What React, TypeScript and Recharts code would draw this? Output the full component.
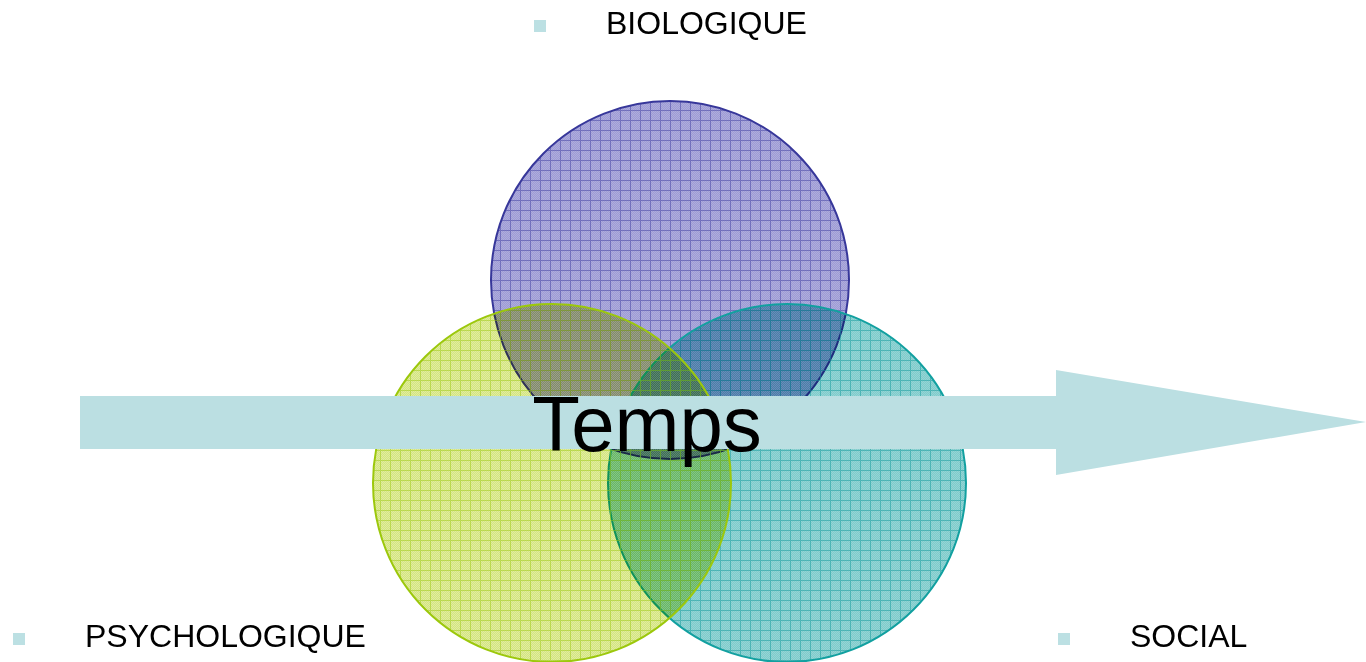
import { ComposedChart, Area, Scatter, XAxis, YAxis, ZAxis } from 'recharts'

// the three spheres, in picture coordinates (drawn in this order)
const circleNames = ['BIOLOGIQUE', 'SOCIAL', 'PSYCHOLOGIQUE']
const circleX = [670, 787, 552]
const circleY = [280, 483, 483]
const circleR = [179, 179, 179]

// bullet labels
const labelNames = ['BIOLOGIQUE', 'PSYCHOLOGIQUE', 'SOCIAL']
const labelX = [540, 19, 1064]
const labelY = [26, 639, 639]

// time arrow outline: x positions with [top, bottom] of the band
const arrowX = [80, 1056, 1056, 1366]
const arrowTop = [396, 396, 370, 422]
const arrowBottom = [449, 449, 475, 422]

const arrowTitle = 'Temps'
const arrowTitleX = 647
const arrowTitleY = 451

const W = 1366
const H = 662
const FONT = '"Liberation Sans", Arial, sans-serif'

const palette: Record<string, { base: string; light: string; line: string; stroke: string }> = {
  BIOLOGIQUE: { base: '#9e9cd4', light: '#aeacdd', line: '#3e3ba0', stroke: '#37379a' },
  PSYCHOLOGIQUE: { base: '#d4e580', light: '#e0eca0', line: '#9cc810', stroke: '#9cc80c' },
  SOCIAL: { base: '#80cbcb', light: '#94d5d5', line: '#10989a', stroke: '#12a0a0' }
}

const circles = circleNames.map((name, i) => ({
  name,
  x: circleX[i],
  y: circleY[i],
  z: Math.PI * circleR[i] * circleR[i]
}))

const labels = labelNames.map((name, i) => ({ name, x: labelX[i], y: labelY[i] }))

const arrow = arrowX.map((x, i) => ({ x, band: [arrowTop[i], arrowBottom[i]] }))

const title = [{ x: arrowTitleX, y: arrowTitleY, name: arrowTitle }]

const maxZ = Math.max(...circles.map((c) => c.z))

function Sphere(props: any) {
  const { cx, cy, width, payload } = props
  const r = width / 2
  const c = palette[payload.name]
  const id = payload.name.toLowerCase()
  return (
    <g>
      <defs>
        <pattern id={`dither-${id}`} width={2} height={2} patternUnits="userSpaceOnUse">
          <rect width={2} height={2} fill={c.base} />
          <rect width={1} height={1} fill={c.light} />
          <rect x={1} y={1} width={1} height={1} fill={c.light} />
        </pattern>
        <pattern id={`grid-${id}`} width={10} height={10} patternUnits="userSpaceOnUse">
          <path d="M0 0.5H10M0.5 0V10" stroke={c.line} strokeWidth={1} />
        </pattern>
      </defs>
      <circle cx={cx} cy={cy} r={r} fill={`url(#dither-${id})`} style={{ mixBlendMode: 'multiply' }} />
      <circle cx={cx} cy={cy} r={r} fill={`url(#grid-${id})`} opacity={0.5} />
      <circle cx={cx} cy={cy} r={r} fill="none" stroke={c.stroke} strokeWidth={2} />
    </g>
  )
}

function Bullet(props: any) {
  const { cx, cy, payload } = props
  return (
    <g>
      <rect x={cx - 6} y={cy - 6} width={12} height={12} fill="#bce0e3" />
      <text x={cx + 66} y={cy + 8} fontFamily={FONT} fontSize={32} fill="#000">
        {payload.name}
      </text>
    </g>
  )
}

function Title(props: any) {
  const { cx, cy, payload } = props
  return (
    <text x={cx} y={cy} textAnchor="middle" fontFamily={FONT} fontSize={78} fill="#000">
      {payload.name}
    </text>
  )
}

export default function App() {
  return (
    <div style={{ position: 'absolute', left: 0, top: 0, width: W, height: H, background: '#fff' }}>
      <ComposedChart width={W} height={H} data={arrow} margin={{ top: 0, right: 0, bottom: 0, left: 0 }}>
        <XAxis type="number" dataKey="x" domain={[0, W]} allowDataOverflow hide />
        <YAxis type="number" domain={[0, H]} reversed allowDataOverflow hide />
        <ZAxis type="number" dataKey="z" domain={[0, maxZ]} range={[0, maxZ]} />
        <Scatter data={circles} dataKey="y" shape={Sphere} isAnimationActive={false} zIndex={600} />
        <Area
          type="linear"
          dataKey="band"
          stroke="none"
          fill="#bbdfe2"
          fillOpacity={1}
          isAnimationActive={false}
          activeDot={false}
          zIndex={650}
        />
        <Scatter data={title} dataKey="y" shape={Title} isAnimationActive={false} zIndex={700} />
        <Scatter data={labels} dataKey="y" shape={Bullet} isAnimationActive={false} zIndex={700} />
      </ComposedChart>
    </div>
  )
}
